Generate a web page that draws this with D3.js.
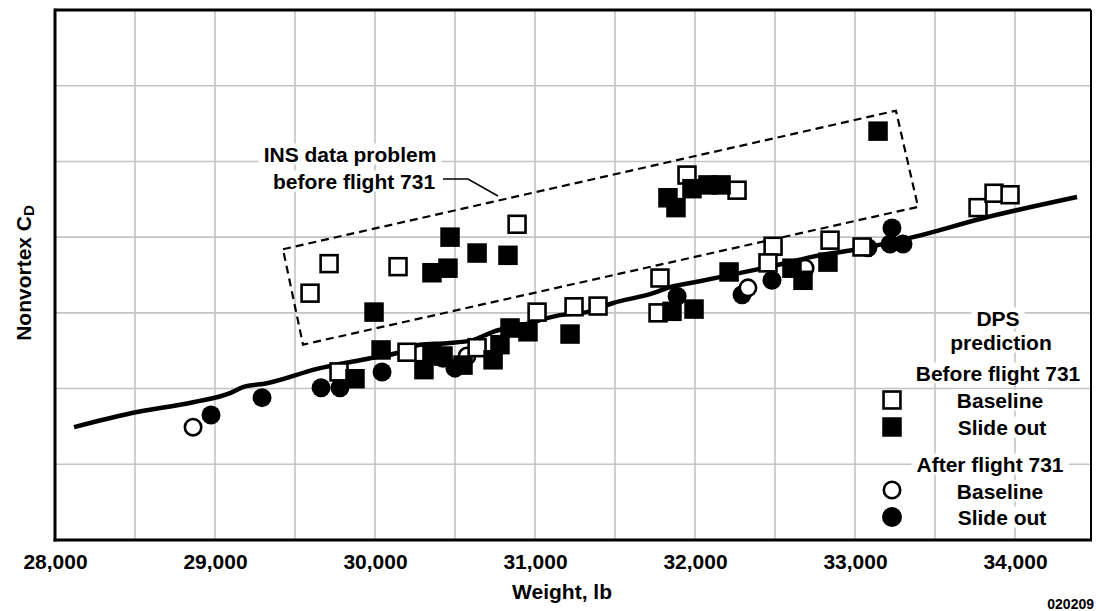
<!DOCTYPE html>
<html><head><meta charset="utf-8">
<script src="https://cdn.jsdelivr.net/npm/d3@7"></script>
<style>
html,body{margin:0;padding:0;background:#fff;}
svg{display:block;}
text{font-family:"Liberation Sans",Arial,Helvetica,sans-serif;font-weight:bold;fill:#000;}
</style></head>
<body>
<script>
// ---- data (weight lb, nonvortex CD in grid units) ----
const xTickValues = [28000,29000,30000,31000,32000,33000,34000];
const beforeBaseline = [[29594,3.26],[29713,3.65],[30144,3.61],[30888,4.17],[31950,4.82],[32263,4.62],
  [29775,2.22],[30200,2.48],[30638,2.54],[31013,3.01],[31244,3.08],[31394,3.09],[31781,3.46],[31769,3.00],
  [32488,3.88],[32456,3.66],[32844,3.96],[33044,3.87],[33769,4.39],[33869,4.58],[33969,4.56]];
const beforeSlideOut = [[29994,3.01],[30356,3.53],[30456,3.59],[30469,4.00],[30638,3.79],[30831,3.76],
  [31831,4.52],[31881,4.39],[31981,4.64],[32081,4.69],[32163,4.69],[33144,5.40],
  [30038,2.51],[29875,2.13],[30306,2.25],[30356,2.47],[30425,2.43],[30550,2.31],[30738,2.38],[30781,2.58],
  [30844,2.80],[30956,2.75],[31219,2.72],[31856,3.02],[31994,3.05],[32213,3.54],[32606,3.59],[32675,3.43],[32831,3.67]];
const afterBaseline = [[28863,1.49],[30575,2.43],[32331,3.33],[32688,3.59]];
const afterSlideOut = [[28975,1.65],[29294,1.88],[29663,2.01],[29781,2.01],[30044,2.22],[30425,2.40],[30500,2.27],
  [31888,3.22],[32294,3.24],[32481,3.43],[33081,3.86],[33231,4.12],[33219,3.91],[33300,3.91]];
const dpsPrediction = [[28119,1.49],[28488,1.68],[28863,1.82],[29094,1.94],[29175,2.02],[29325,2.07],[29638,2.26],
  [29969,2.40],[30156,2.48],[30281,2.58],[30450,2.60],[30613,2.64],[30738,2.75],[30906,2.83],[31156,2.97],
  [31325,3.01],[31488,3.13],[31738,3.26],[31844,3.34],[32013,3.41],[32219,3.50],[32469,3.61],[32781,3.76],
  [32988,3.83],[33363,4.00],[33800,4.25],[34388,4.53]];
const insBox = [[29425,3.84],[33256,5.67],[33394,4.40],[29550,2.58]];

const W=1096,H=611;
const m={l:55,t:10,r:1091,b:540};
const x=d3.scaleLinear().domain([28000,34475]).range([m.l,m.r]);
const y=d3.scaleLinear().domain([0,7]).range([m.b,m.t]);
const FS=21;

const svg=d3.select("body").append("svg").attr("width",W).attr("height",H);

// grid
const g=svg.append("g");
g.selectAll(".vg").data(d3.range(28500,34476,500)).enter().append("line")
 .attr("x1",d=>x(d)).attr("x2",d=>x(d)).attr("y1",m.t).attr("y2",m.b)
 .attr("stroke","#c4c4c4").attr("stroke-width",1.6);
g.selectAll(".hg").data(d3.range(1,7)).enter().append("line")
 .attr("y1",d=>y(d)).attr("y2",d=>y(d)).attr("x1",m.l).attr("x2",m.r)
 .attr("stroke","#c4c4c4").attr("stroke-width",1.6);

// text with white knockout
function ktext(sel,str,cx,cy,size,anchor){
  const t=sel.append("text").attr("x",cx).attr("y",cy).attr("font-size",size)
    .attr("text-anchor",anchor||"middle").attr("dominant-baseline","central").text(str);
  const bb=t.node().getBBox();
  sel.insert("rect",function(){return t.node();}).attr("x",bb.x-5).attr("y",bb.y+1).attr("width",bb.width+10).attr("height",bb.height-2).attr("fill","#fff");
  return t;
}

// dashed INS box
svg.append("path").attr("d",d3.line().x(d=>x(d[0])).y(d=>y(d[1])).curve(d3.curveLinearClosed)(insBox))
 .attr("fill","none").attr("stroke","#000").attr("stroke-width",2.2).attr("stroke-dasharray","8,5");

// annotation
const ann=svg.append("g");
ktext(ann,"INS data problem",350,154,FS);
ktext(ann,"before flight 731",354,181,FS);
ann.append("path").attr("d","M443,179 L468,179 L498,196").attr("fill","none").attr("stroke","#000").attr("stroke-width",1.5);

// DPS prediction line
svg.append("path").datum(dpsPrediction)
 .attr("d",d3.line().x(d=>x(d[0])).y(d=>y(d[1])).curve(d3.curveMonotoneX))
 .attr("fill","none").attr("stroke","#000").attr("stroke-width",4.5).attr("stroke-linejoin","round");

const S=19.5, R=9.5;
// filled circles
svg.selectAll(".fc").data(afterSlideOut).enter().append("circle")
 .attr("cx",d=>x(d[0])).attr("cy",d=>y(d[1])).attr("r",R).attr("fill","#000");
// open circles
svg.selectAll(".oc").data(afterBaseline).enter().append("circle")
 .attr("cx",d=>x(d[0])).attr("cy",d=>y(d[1])).attr("r",R-1.3).attr("fill","#fff").attr("stroke","#000").attr("stroke-width",2.6);
// open squares
svg.selectAll(".os").data(beforeBaseline).enter().append("rect")
 .attr("x",d=>x(d[0])-S/2+1.3).attr("y",d=>y(d[1])-S/2+1.3).attr("width",S-2.6).attr("height",S-2.6)
 .attr("fill","#fff").attr("stroke","#000").attr("stroke-width",2.6);
// filled squares
svg.selectAll(".fs").data(beforeSlideOut).enter().append("rect")
 .attr("x",d=>x(d[0])-S/2).attr("y",d=>y(d[1])-S/2).attr("width",S).attr("height",S).attr("fill","#000");

// frame
svg.append("line").attr("x1",m.l).attr("x2",m.r).attr("y1",m.t).attr("y2",m.t).attr("stroke","#000").attr("stroke-width",3);
svg.append("line").attr("x1",m.r).attr("x2",m.r).attr("y1",m.t).attr("y2",m.b).attr("stroke","#000").attr("stroke-width",2);

// x axis
const xa=svg.append("g").attr("transform",`translate(0,${m.b})`)
 .call(d3.axisBottom(x).tickValues(xTickValues).tickSize(0).tickPadding(14).tickFormat(d3.format(",")));
xa.select(".domain").remove();
xa.selectAll("text").attr("font-size",FS).attr("font-family","Liberation Sans, Arial, sans-serif").attr("font-weight","bold").attr("fill","#000");
svg.append("line").attr("x1",m.l-1.5).attr("x2",m.r+1).attr("y1",m.b).attr("y2",m.b).attr("stroke","#000").attr("stroke-width",3);
svg.append("line").attr("x1",m.l).attr("x2",m.l).attr("y1",m.t-1.5).attr("y2",m.b+1.5).attr("stroke","#000").attr("stroke-width",3);

svg.append("text").attr("x",562).attr("y",591).attr("text-anchor","middle").attr("dominant-baseline","central").attr("font-size",FS).text("Weight, lb");
const yt=svg.append("text").attr("transform","translate(23,273) rotate(-90)").attr("text-anchor","middle").attr("dominant-baseline","central").attr("font-size",FS);
yt.append("tspan").text("Nonvortex C");
yt.append("tspan").attr("font-size",15).attr("dy",5).text("D");
svg.append("text").attr("x",1094).attr("y",604).attr("text-anchor","end").attr("dominant-baseline","central")
 .attr("font-size",14).attr("font-weight","normal").text("020209");

// legend
const lg=svg.append("g");
ktext(lg,"DPS",998,318,FS);
ktext(lg,"prediction",1001,342,FS);
ktext(lg,"Before flight 731",998,373,FS);
ktext(lg,"Baseline",1000,400,FS);
ktext(lg,"Slide out",1002,427,FS);
ktext(lg,"After flight 731",990,464,FS);
ktext(lg,"Baseline",1000,491,FS);
ktext(lg,"Slide out",1002,517,FS);
lg.append("rect").attr("x",892-S/2+1.3).attr("y",400-S/2+1.3).attr("width",S-2.6).attr("height",S-2.6).attr("fill","#fff").attr("stroke","#000").attr("stroke-width",2.6);
lg.append("rect").attr("x",892-S/2).attr("y",427-S/2).attr("width",S).attr("height",S).attr("fill","#000");
lg.append("circle").attr("cx",892).attr("cy",490).attr("r",R-1.3).attr("fill","#fff").attr("stroke","#000").attr("stroke-width",2.6);
lg.append("circle").attr("cx",892).attr("cy",517).attr("r",R+0.5).attr("fill","#000");
</script>
</body></html>
